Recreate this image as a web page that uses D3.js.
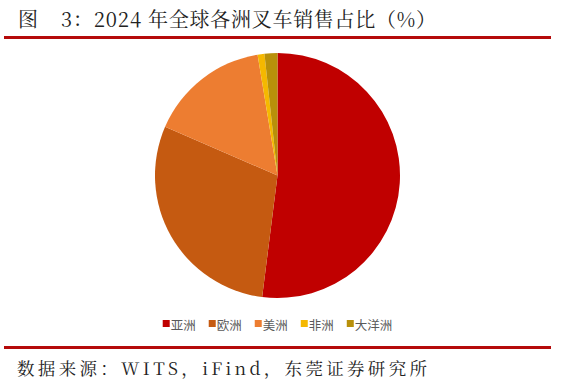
<!DOCTYPE html>
<html>
<head>
<meta charset="utf-8">
<script src="https://cdn.jsdelivr.net/npm/d3@7/dist/d3.min.js"></script>
<style>
  body { margin: 0; background: #fff; }
  svg { display: block; }
</style>
</head>
<body>
<svg id="chart" width="564" height="384"></svg>
<script>
const regions = ['亚洲', '欧洲', '美洲', '非洲', '大洋洲'];
const shares = [52.0, 29.5, 15.9, 0.9, 1.7];
const colors = ['#C00000', '#C55A11', '#ED7D31', '#F5B800', '#B8900A'];

const svg = d3.select('#chart');
const cjk = '"Noto Serif CJK SC", "Liberation Serif", "Noto Sans CJK SC", serif';

// title
const title = svg.append('text')
  .attr('y', 27)
  .attr('font-family', cjk)
  .attr('font-size', 20)
  .attr('fill', '#222');
title.append('tspan').attr('x', 18).text('图');
title.append('tspan').attr('x', 61)
  .attr('textLength', 80).attr('lengthAdjust', 'spacing')
  .text('3：2024');
title.append('tspan').attr('x', 148)
  .attr('textLength', 288).attr('lengthAdjust', 'spacing')
  .text('年全球各洲叉车销售占比（%）');

svg.append('rect').attr('x', 4).attr('y', 36).attr('width', 547).attr('height', 3).attr('fill', '#B50A0A');
svg.append('rect').attr('x', 4).attr('y', 346).attr('width', 547).attr('height', 3).attr('fill', '#B50A0A');

svg.append('text')
  .attr('x', 17).attr('y', 375)
  .attr('font-family', cjk)
  .attr('font-size', 17.5)
  .attr('fill', '#222')
  .attr('textLength', 410).attr('lengthAdjust', 'spacing')
  .text('数据来源：WITS，iFind，东莞证券研究所');

// pie
const cx = 277.5, cy = 175.5, r = 122.5;
const pie = d3.pie().sort(null).value(d => d);
const arc = d3.arc().innerRadius(0).outerRadius(r);

svg.append('g')
  .attr('transform', `translate(${cx},${cy})`)
  .selectAll('path')
  .data(pie(shares))
  .join('path')
  .attr('d', arc)
  .attr('fill', (d, i) => colors[i]);

// legend
const legend = svg.append('g');
const items = legend.selectAll('g')
  .data(regions)
  .join('g');
items.append('rect')
  .attr('width', 7).attr('height', 7)
  .attr('y', -5)
  .attr('fill', (d, i) => colors[i]);
items.append('text')
  .attr('x', 8).attr('y', 0)
  .attr('dy', '0.4em')
  .attr('font-family', '"Noto Sans CJK SC", sans-serif')
  .attr('font-size', 12.5)
  .attr('fill', '#595959')
  .text(d => d);

let x = 0;
items.each(function () {
  const w = this.getBBox().width;
  d3.select(this).attr('transform', `translate(${x},0)`);
  x += w + 13;
});
const total = x - 13;
legend.attr('transform', `translate(${cx - total / 2},325)`);
</script>
</body>
</html>
